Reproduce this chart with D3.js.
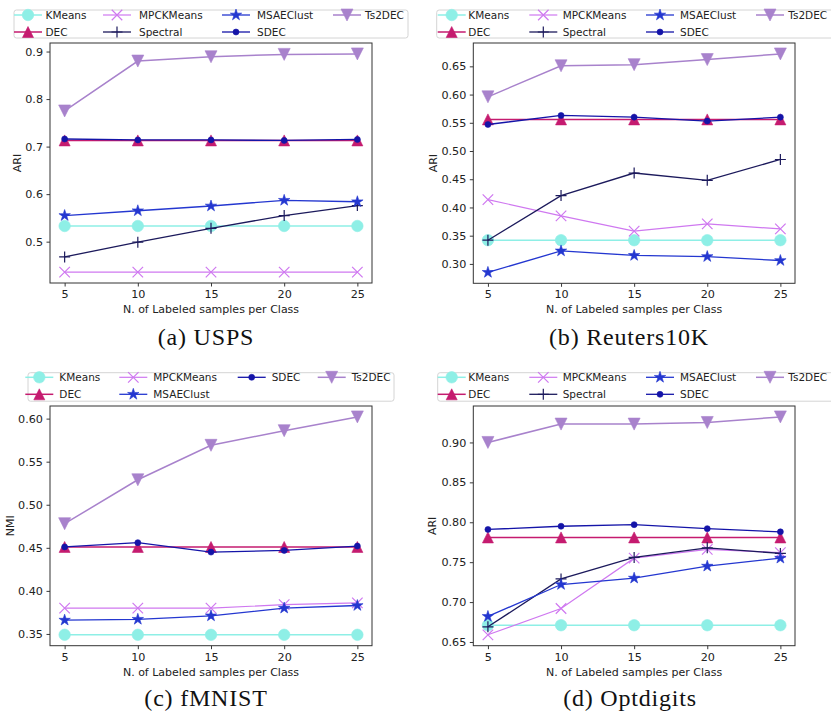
<!DOCTYPE html>
<html><head><meta charset="utf-8">
<script src="https://cdn.jsdelivr.net/npm/d3@7"></script>
<style>body{margin:0;background:#fff}svg{display:block}</style>
</head><body>
<svg id="fig" width="831" height="713"></svg>
<script>
// ---------- data ----------
const samples = [5, 10, 15, 20, 25];
const methodNames = ["KMeans","DEC","MPCKMeans","Spectral","MSAEClust","SDEC","Ts2DEC"];

const usps_KMeans    = [0.533,0.533,0.533,0.533,0.533];
const usps_DEC       = [0.713,0.713,0.713,0.713,0.713];
const usps_MPCKMeans = [0.436,0.436,0.436,0.436,0.436];
const usps_Spectral  = [0.468,0.499,0.528,0.555,0.576];
const usps_MSAEClust = [0.555,0.565,0.575,0.587,0.584];
const usps_SDEC      = [0.716,0.714,0.714,0.713,0.715];
const usps_Ts2DEC    = [0.775,0.880,0.889,0.894,0.895];

const reut_KMeans    = [0.342,0.342,0.342,0.342,0.342];
const reut_DEC       = [0.556,0.556,0.556,0.556,0.556];
const reut_MPCKMeans = [0.414,0.385,0.358,0.371,0.362];
const reut_Spectral  = [0.342,0.421,0.461,0.448,0.485];
const reut_MSAEClust = [0.285,0.323,0.315,0.313,0.306];
const reut_SDEC      = [0.547,0.563,0.560,0.553,0.560];
const reut_Ts2DEC    = [0.596,0.651,0.653,0.662,0.672];

const fmn_KMeans    = [0.349,0.349,0.349,0.349,0.349];
const fmn_DEC       = [0.451,0.451,0.451,0.451,0.451];
const fmn_MPCKMeans = [0.380,0.380,0.380,0.384,0.386];
const fmn_MSAEClust = [0.366,0.367,0.371,0.380,0.383];
const fmn_SDEC      = [0.451,0.456,0.445,0.447,0.452];
const fmn_Ts2DEC    = [0.478,0.529,0.569,0.586,0.602];

const opt_KMeans    = [0.671,0.671,0.671,0.671,0.671];
const opt_DEC       = [0.781,0.781,0.781,0.781,0.781];
const opt_MPCKMeans = [0.659,0.692,0.755,0.766,0.762];
const opt_Spectral  = [0.669,0.729,0.756,0.768,0.761];
const opt_MSAEClust = [0.682,0.722,0.730,0.745,0.755];
const opt_SDEC      = [0.791,0.795,0.797,0.792,0.788];
const opt_Ts2DEC    = [0.900,0.923,0.923,0.925,0.932];

const xTickLabels = ["5","10","15","20","25"];
const uspsTicks = [0.5,0.6,0.7,0.8,0.9];
const reutTicks = [0.30,0.35,0.40,0.45,0.50,0.55,0.60,0.65];
const fmnTicks  = [0.35,0.40,0.45,0.50,0.55,0.60];
const optTicks  = [0.65,0.70,0.75,0.80,0.85,0.90];
const captions = ["(a) USPS","(b) Reuters10K","(c) fMNIST","(d) Optdigits"];
const yTitles = ["ARI","ARI","NMI","ARI"];
const xTitle = "N. of Labeled samples per Class";

// ---------- styles ----------
const styles = {
  KMeans:    {color:"#8eefe6", marker:"circle",  ms:11.5, lw:1.5},
  DEC:       {color:"#c51b6f", marker:"triUp",   ms:11,   lw:1.5},
  MPCKMeans: {color:"#cf78f0", marker:"x",       ms:10.5, lw:1.2},
  Spectral:  {color:"#1c1a5c", marker:"plus",    ms:11,   lw:1.3},
  MSAEClust: {color:"#2437d0", marker:"star",    ms:12,   lw:1.3},
  SDEC:      {color:"#1414a8", marker:"dot",     ms:6,    lw:1.3},
  Ts2DEC:    {color:"#a882cc", marker:"triDown", ms:12,   lw:1.5}
};

function markerPath(type, ms){
  const h = ms/2;
  switch(type){
    case "circle": return `M${h},0A${h},${h} 0 1,1 ${-h},0A${h},${h} 0 1,1 ${h},0Z`;
    case "dot": return `M${h},0A${h},${h} 0 1,1 ${-h},0A${h},${h} 0 1,1 ${h},0Z`;
    case "triUp": return `M0,${-h}L${h},${h}L${-h},${h}Z`;
    case "triDown": return `M0,${h}L${h},${-h}L${-h},${-h}Z`;
    case "plus": return `M${-h},0L${h},0M0,${-h}L0,${h}`;
    case "x": return `M${-h},${-h}L${h},${h}M${-h},${h}L${h},${-h}`;
    case "star": {
      const inner = h*0.381966; let p="";
      for(let i=0;i<10;i++){
        const r = i%2===0 ? h : inner;
        const a = -Math.PI/2 + i*Math.PI/5;
        p += (i===0?"M":"L") + (r*Math.cos(a)).toFixed(2) + "," + (r*Math.sin(a)).toFixed(2);
      }
      return p+"Z";
    }
  }
}
function isStrokeMarker(t){ return t==="plus"||t==="x"; }

const panels = [
  {box:{l:50,r:372,t:43,b:283}, ticks:uspsTicks, fmt:".1f",
   series:{KMeans:usps_KMeans,DEC:usps_DEC,MPCKMeans:usps_MPCKMeans,Spectral:usps_Spectral,MSAEClust:usps_MSAEClust,SDEC:usps_SDEC,Ts2DEC:usps_Ts2DEC},
   legend:{x:14, y:10, w:394, h:28, row:[15,32], cols:[[28,45.5],[117,139],[236,257],[347,365]]},
   cap:{x:206,y:345}, ytx:17},
  {box:{l:473.3,r:795,t:43,b:283.3}, ticks:reutTicks, fmt:".2f",
   series:{KMeans:reut_KMeans,DEC:reut_DEC,MPCKMeans:reut_MPCKMeans,Spectral:reut_Spectral,MSAEClust:reut_MSAEClust,SDEC:reut_SDEC,Ts2DEC:reut_Ts2DEC},
   legend:{x:436.7, y:10, w:420, h:28, row:[15,32], cols:[[451.7,468.3],[543.3,562.7],[660,680],[770,788.3]]},
   cap:{x:629,y:345}, ytx:433},
  {box:{l:50,r:372,t:406,b:645.7}, ticks:fmnTicks, fmt:".2f",
   series:{KMeans:fmn_KMeans,DEC:fmn_DEC,MPCKMeans:fmn_MPCKMeans,MSAEClust:fmn_MSAEClust,SDEC:fmn_SDEC,Ts2DEC:fmn_Ts2DEC},
   legend:{x:28, y:372.7, w:366, h:28.5, row:[377.3,394.3], cols:[[39.3,59.3],[133.3,153.3],[251.7,271.7],[331.7,351.7]]},
   cap:{x:206,y:706}, ytx:10},
  {box:{l:473.3,r:795,t:406,b:645.7}, ticks:optTicks, fmt:".2f",
   series:{KMeans:opt_KMeans,DEC:opt_DEC,MPCKMeans:opt_MPCKMeans,Spectral:opt_Spectral,MSAEClust:opt_MSAEClust,SDEC:opt_SDEC,Ts2DEC:opt_Ts2DEC},
   legend:{x:437.7, y:372.7, w:420, h:28.5, row:[377.3,394.3], cols:[[451.7,468.3],[543.3,562.7],[660,680],[770,788.3]]},
   cap:{x:630,y:706}, ytx:432}
];

const svg = d3.select("#fig");
const FONT = "DejaVu Sans, sans-serif";

panels.forEach((P,pi)=>{
  const g = svg.append("g");
  const B = P.box;
  const names = methodNames.filter(n=>P.series[n]);
  const allVals = names.flatMap(n=>P.series[n]);
  const lo = d3.min(allVals), hi = d3.max(allVals), m = (hi-lo)*0.05;
  const y = d3.scaleLinear().domain([lo-m, hi+m]).range([B.b, B.t]);
  const x = d3.scaleLinear().domain([4, 26]).range([B.l, B.r]);

  // axes
  const xAxis = d3.axisBottom(x).tickValues(samples).tickFormat((d,i)=>xTickLabels[i]).tickSize(3.5).tickPadding(3.5);
  const yAxis = d3.axisLeft(y).tickValues(P.ticks).tickFormat(d3.format(P.fmt)).tickSize(3.5).tickPadding(3.5);
  const gx = g.append("g").attr("transform",`translate(0,${B.b})`).call(xAxis);
  const gy = g.append("g").attr("transform",`translate(${B.l},0)`).call(yAxis);
  [gx,gy].forEach(a=>{
    a.select(".domain").remove();
    a.selectAll("line").attr("stroke","#222").attr("stroke-width",0.9);
    a.selectAll("text").attr("fill","#222").style("font-family",FONT).style("font-size","11.2px");
  });

  // series lines + markers
  const line = d3.line().x((d,i)=>x(samples[i])).y(d=>y(d));
  names.forEach(n=>{
    const s = styles[n], vals = P.series[n];
    const sg = g.append("g");
    sg.append("path").attr("d", line(vals)).attr("fill","none").attr("stroke", s.color).attr("stroke-width", s.lw);
    sg.selectAll("path.mk").data(vals).join("path").attr("class","mk")
      .attr("transform",(d,i)=>`translate(${x(samples[i])},${y(d)})`)
      .attr("d", markerPath(s.marker, s.ms))
      .attr("fill", isStrokeMarker(s.marker) ? "none" : s.color)
      .attr("stroke", s.color)
      .attr("stroke-width", isStrokeMarker(s.marker) ? 1.2 : 0.6);
  });

  // frame
  g.append("rect").attr("x",B.l).attr("y",B.t).attr("width",B.r-B.l).attr("height",B.b-B.t)
    .attr("fill","none").attr("stroke","#333").attr("stroke-width",1);

  // titles
  g.append("text").attr("x",(B.l+B.r)/2).attr("y",B.b+30).attr("text-anchor","middle")
    .style("font-family",FONT).style("font-size","11px").attr("fill","#222").text(xTitle);
  g.append("text").attr("transform",`translate(${P.ytx+4},${(B.t+B.b)/2}) rotate(-90)`).attr("text-anchor","middle")
    .style("font-family",FONT).style("font-size","11px").attr("fill","#222").text(yTitles[pi]);

  // legend
  const L = P.legend;
  const lg = svg.append("g");
  lg.append("rect").attr("x",L.x).attr("y",L.y).attr("width",L.w).attr("height",L.h).attr("rx",2.5)
    .attr("fill","#fff").attr("fill-opacity",0.85).attr("stroke","#d4d4d4").attr("stroke-width",1);
  const nRows = 2, nCols = 4;
  const per = Math.floor(names.length/nCols), extra = names.length % nCols;
  let idx = 0;
  for(let c=0;c<nCols;c++){
    const cnt = per + (c<extra?1:0) || Math.min(nRows, names.length-idx);
    for(let r=0;r<cnt && idx<names.length;r++){
      const n = names[idx++], s = styles[n];
      const cx = L.cols[c][0], tx = L.cols[c][1], cy = L.row[r];
      lg.append("line").attr("x1",cx-14).attr("x2",cx+14).attr("y1",cy).attr("y2",cy)
        .attr("stroke",s.color).attr("stroke-width",s.lw);
      lg.append("path").attr("transform",`translate(${cx},${cy})`).attr("d",markerPath(s.marker,s.ms))
        .attr("fill", isStrokeMarker(s.marker)?"none":s.color).attr("stroke",s.color)
        .attr("stroke-width", isStrokeMarker(s.marker)?1.2:0.6);
      lg.append("text").attr("x",tx).attr("y",cy).attr("dy","0.35em")
        .style("font-family",FONT).style("font-size","10.5px").attr("fill","#222").text(n);
    }
  }

  // caption
  svg.append("text").attr("x",P.cap.x).attr("y",P.cap.y).attr("text-anchor","middle")
    .style("font-family","Liberation Serif, serif").style("font-size","24px").style("letter-spacing","0.8px")
    .attr("fill","#111").text(captions[pi]);
});
</script>
</body></html>
